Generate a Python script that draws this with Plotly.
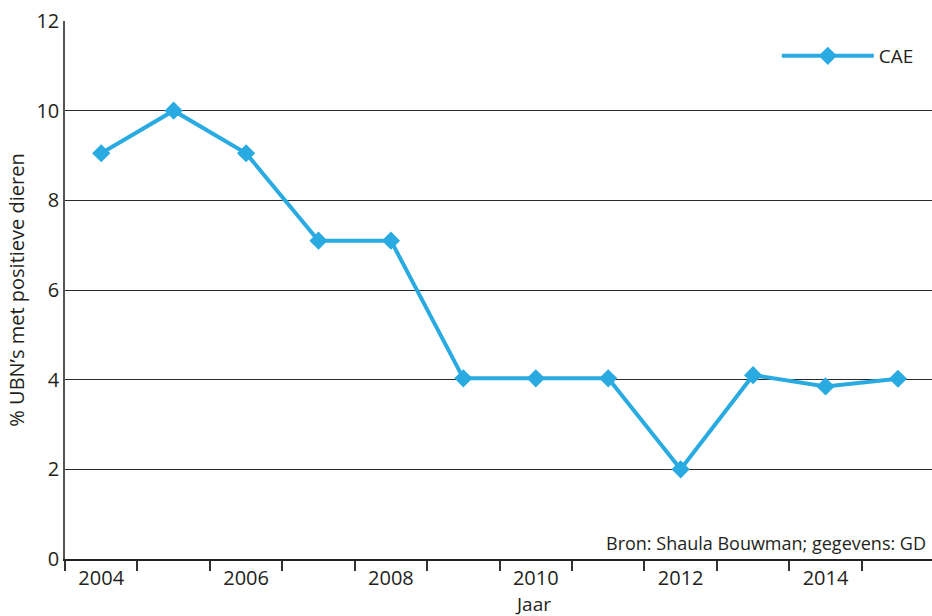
import plotly.graph_objects as go

years = [2004, 2005, 2006, 2007, 2008, 2009, 2010, 2011, 2012, 2013, 2014, 2015]
cae = [9.05, 10.0, 9.05, 7.1, 7.1, 4.03, 4.03, 4.03, 2.0, 4.1, 3.85, 4.02]
x_tick_labels = [2004, 2006, 2008, 2010, 2012, 2014]
y_ticks = [0, 2, 4, 6, 8, 10, 12]

BLUE = "#29ABE2"
TXT = "#231F20"
FONT = "Open Sans, Noto Sans, sans-serif"

fig = go.Figure()
fig.add_trace(go.Scatter(
    x=years, y=cae, mode="lines+markers", name="CAE",
    line=dict(color=BLUE, width=4),
    marker=dict(symbol="diamond", size=14, color=BLUE),
))

fig.update_layout(
    width=932, height=616,
    margin=dict(l=65, r=0, t=21, b=57),
    paper_bgcolor="white", plot_bgcolor="white",
    font=dict(family=FONT, size=20, color=TXT),
    showlegend=True,
    legend=dict(x=0.821, y=0.935, xanchor="left", yanchor="middle",
                bgcolor="rgba(0,0,0,0)", itemwidth=92,
                font=dict(size=19, color=TXT)),
    xaxis=dict(
        range=[2003.5, 2015.47],
        tickvals=x_tick_labels, ticktext=[str(v) for v in x_tick_labels],
        ticks="", showgrid=False, zeroline=False,
        showline=True, linecolor="#222", linewidth=1.5,
        tickfont=dict(size=20, color=TXT),
        minor=dict(tickvals=[y - 0.5 for y in years], ticks="outside",
                   ticklen=10, tickcolor="#333", tickwidth=1.5, showgrid=False),
    ),
    yaxis=dict(
        range=[0, 12], tickvals=y_ticks, ticks="",
        showgrid=True, gridcolor="#2a2a2a", gridwidth=1.4,
        zeroline=False, showline=True, linecolor="#555", linewidth=1.5,
        tickfont=dict(size=20, color=TXT),
        title=dict(text="% UBN’s met positieve dieren", font=dict(size=20, color=TXT), standoff=6),
    ),
)

fig.add_annotation(text="Jaar", xref="paper", yref="paper",
                   x=(513 - 65) / 867, y=(559 - 604) / 538, xanchor="left", yanchor="middle",
                   showarrow=False, font=dict(size=19, color=TXT))
fig.add_annotation(text="Bron: Shaula Bouwman; gegevens: GD", xref="paper", yref="paper",
                   x=(928 - 65) / 867, y=(559 - 543) / 538, xanchor="right", yanchor="middle",
                   showarrow=False, font=dict(size=18, color=TXT))

fig.write_html("out.html", config={"displayModeBar": False},
               post_script="document.body.style.margin='0px';")
